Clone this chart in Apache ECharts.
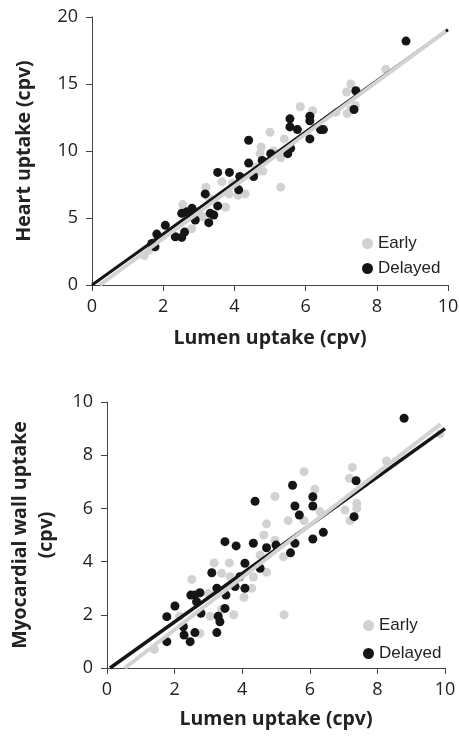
<!DOCTYPE html>
<html>
<head>
<meta charset="utf-8">
<script src="https://cdn.jsdelivr.net/npm/echarts@6/dist/echarts.min.js"></script>
<style>html,body{margin:0;padding:0;background:#fff}#c{width:459px;height:738px}</style>
</head>
<body>
<div id="c"></div>
<script>
// ---- Top panel: Heart uptake vs Lumen uptake ----
var topEarly = [[1.47,2.2],[1.6,2.6],[1.75,3.2],[2.55,6.0],[2.8,4.2],[3.0,5.5],[3.1,5.1],[3.2,7.3],[3.3,6.5],
  [3.65,7.7],[3.75,5.8],[3.85,6.8],[3.95,7.6],[4.1,6.7],[4.3,6.8],[4.6,8.8],[4.7,8.5],[4.72,9.8],[4.75,10.3],
  [4.8,8.5],[5.0,11.4],[5.1,10.0],[5.3,9.5],[5.3,7.3],[5.4,10.9],[5.85,13.3],[6.2,13.0],[6.85,12.9],[7.15,14.4],
  [7.27,15.0],[7.27,13.1],[7.17,12.8],[7.4,13.4],[8.25,16.1]];
var topDelayed = [[1.68,3.1],[1.77,2.85],[1.82,3.8],[2.06,4.45],[2.34,3.6],[2.52,3.55],[2.6,3.95],[2.52,5.35],
  [2.67,5.47],[2.76,5.22],[2.81,5.72],[2.9,4.85],[3.18,6.8],[3.28,4.65],[3.32,5.35],[3.42,5.22],[3.53,5.9],
  [3.53,8.4],[3.86,8.4],[4.12,7.1],[4.15,8.1],[4.4,9.1],[4.4,10.8],[4.54,8.1],[4.78,9.3],[5.02,9.8],[5.5,9.8],
  [5.58,10.2],[5.56,12.4],[5.56,11.8],[5.77,11.6],[6.12,12.6],[6.12,12.25],[6.12,10.9],[6.42,11.6],[6.5,11.6],
  [7.41,14.5],[7.36,13.1],[8.82,18.2]];
var topEarlyFit = [[0.22,0.0],[9.94,18.95]];
var topDelayedFit = [[0.0,0.0],[10.0,19.05]];
var topXTicks = [0,2,4,6,8,10];
var topYTicks = [0,5,10,15,20];

// ---- Bottom panel: Myocardial wall uptake vs Lumen uptake ----
var botEarly = [[1.4,0.7],[2.15,1.95],[2.51,3.33],[2.75,1.3],[3.0,2.8],[3.05,1.95],[3.17,3.95],[3.39,3.56],
  [3.39,2.2],[3.62,3.95],[3.64,3.43],[3.75,2.0],[4.05,2.66],[4.28,3.0],[4.33,3.42],[4.53,4.25],[4.64,5.0],
  [4.72,5.42],[4.72,3.6],[4.97,4.8],[4.97,6.45],[5.22,4.18],[5.24,2.0],[5.36,5.54],[5.83,5.54],[5.83,7.38],
  [6.15,6.72],[6.3,5.88],[7.04,5.94],[7.17,7.13],[7.19,5.54],[7.26,7.54],[7.39,6.19],[7.39,6.0],[8.27,7.78],
  [9.85,8.8]];
var botDelayed = [[1.77,1.93],[1.77,0.99],[2.01,2.33],[2.26,1.55],[2.28,1.24],[2.46,0.99],[2.48,2.74],[2.6,2.74],
  [2.6,1.33],[2.65,2.49],[2.75,2.83],[2.78,2.06],[3.1,3.58],[3.25,3.0],[3.25,1.33],[3.29,1.95],[3.34,1.74],
  [3.49,4.75],[3.49,2.24],[3.52,2.74],[3.79,3.06],[3.82,4.59],[3.93,3.43],[4.08,3.94],[4.08,3.0],[4.33,4.69],
  [4.38,6.27],[4.53,3.75],[4.72,4.52],[5.0,4.62],[5.43,4.33],[5.49,6.87],[5.56,6.09],[5.56,4.69],[5.69,5.75],
  [6.09,6.44],[6.09,6.09],[6.09,4.85],[6.4,5.1],[7.31,5.69],[7.37,7.04],[8.79,9.39]];
var botEarlyFit = [[0.53,0.0],[9.87,9.17]];
var botDelayedFit = [[0.09,0.0],[10.0,9.0]];
var botXTicks = [0,2,4,6,8,10];
var botYTicks = [0,2,4,6,8,10];

var GRAY = '#d2d2d2', BLACK = '#151515';
var TICKFONT = 'Open Sans', TITLEFONT = 'Open Sans';

function xAxis(gi, ticks, name, gap) {
  return {
    type: 'value', gridIndex: gi, min: ticks[0], max: ticks[ticks.length-1], interval: ticks[1]-ticks[0],
    name: name, nameLocation: 'middle', nameGap: gap,
    nameTextStyle: {fontFamily: TITLEFONT, fontWeight: 'bold', fontSize: 19.5, color: '#222'},
    axisLine: {show: true, onZero: false, lineStyle: {color: '#444', width: 1}},
    axisTick: {show: true, inside: false, length: 6, lineStyle: {color: '#444'}},
    axisLabel: {fontFamily: TICKFONT, fontSize: 18, color: '#222', margin: 13},
    splitLine: {show: false}
  };
}
function yAxis(gi, ticks, name, gap) {
  return {
    type: 'value', gridIndex: gi, min: ticks[0], max: ticks[ticks.length-1], interval: ticks[1]-ticks[0],
    name: name, nameLocation: 'middle', nameGap: gap, nameRotate: 90,
    nameTextStyle: {fontFamily: TITLEFONT, fontWeight: 'bold', fontSize: 19.5, color: '#222', lineHeight: 26},
    axisLine: {show: true, onZero: false, lineStyle: {color: '#444', width: 1}},
    axisTick: {show: true, inside: false, length: 6, lineStyle: {color: '#444'}},
    axisLabel: {fontFamily: TICKFONT, fontSize: 18, color: '#222', margin: 14},
    splitLine: {show: false}
  };
}
function scatter(name, data, gi, color, z) {
  return {type: 'scatter', name: name, data: data, xAxisIndex: gi, yAxisIndex: gi,
    symbol: 'circle', symbolSize: 9, itemStyle: {color: color, opacity: 1}, z: z, silent: true};
}
function fit(data, gi, color, width, z) {
  return {type: 'line', data: data, xAxisIndex: gi, yAxisIndex: gi, symbol: 'none',
    lineStyle: {color: color, width: width}, z: z, silent: true, clip: false};
}

var chart = echarts.init(document.getElementById('c'), null, {renderer: 'canvas'});
chart.setOption({
  animation: false,
  backgroundColor: '#fff',
  grid: [
    {left: 92, top: 17, width: 356, height: 268, containLabel: false, outerBoundsMode: 'none'},
    {left: 107, top: 402, width: 338, height: 266, containLabel: false, outerBoundsMode: 'none'}
  ],
  xAxis: [xAxis(0, topXTicks, 'Lumen uptake (cpv)', 43), xAxis(1, botXTicks, 'Lumen uptake (cpv)', 41)],
  yAxis: [yAxis(0, topYTicks, 'Heart uptake (cpv)', 55), yAxis(1, botYTicks, 'Myocardial wall uptake\n(cpv)', 48)],
  legend: [
    {data: ['Early','Delayed'], orient: 'vertical', left: 357, top: 230, itemWidth: 11, itemHeight: 11,
     itemGap: 8, icon: 'circle', textStyle: {fontFamily: 'Liberation Sans', fontSize: 17, color: '#222'}, selectedMode: false},
    {data: ['Early','Delayed'], orient: 'vertical', left: 358, top: 612, itemWidth: 11, itemHeight: 11,
     itemGap: 11, icon: 'circle', textStyle: {fontFamily: 'Liberation Sans', fontSize: 17, color: '#222'}, selectedMode: false}
  ],
  series: [
    scatter('Early', topEarly, 0, GRAY, 2),
    scatter('Delayed', topDelayed, 0, BLACK, 3),
    fit(topDelayedFit, 0, BLACK, 3, 4),
    fit(topEarlyFit, 0, GRAY, 4, 5),
    scatter('Early', botEarly, 1, GRAY, 2),
    scatter('Delayed', botDelayed, 1, BLACK, 3),
    fit(botDelayedFit, 1, BLACK, 3.5, 4),
    fit(botEarlyFit, 1, GRAY, 4, 5)
  ]
});
</script>
</body>
</html>
